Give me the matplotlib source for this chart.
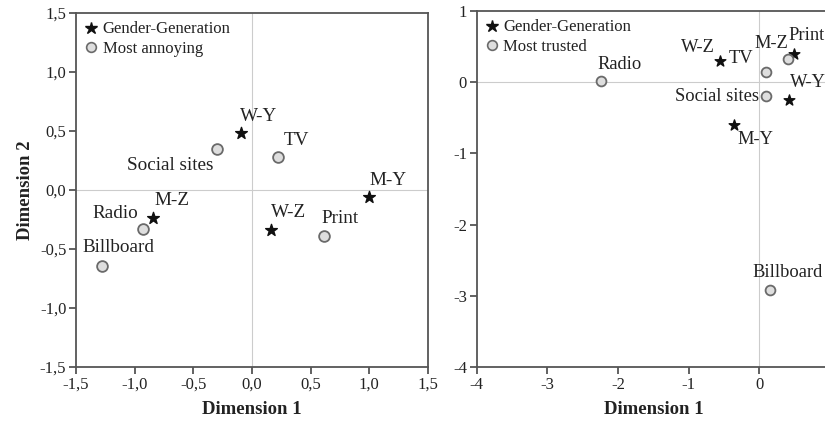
import matplotlib
matplotlib.use('Agg')
import matplotlib.pyplot as plt
from matplotlib.lines import Line2D

plt.rcParams['font.family'] = ['Liberation Serif', 'DejaVu Serif']

# Panel izquierdo: Most annoying
gen_labels_l = ['W-Y', 'M-Y', 'M-Z', 'W-Z']
gen_x_l = [-0.09, 1.00, -0.84, 0.165]
gen_y_l = [0.48, -0.06, -0.24, -0.34]

media_labels_l = ['Social sites', 'TV', 'Radio', 'Billboard', 'Print']
media_x_l = [-0.30, 0.225, -0.93, -1.28, 0.61]
media_y_l = [0.345, 0.277, -0.33, -0.64, -0.39]

ticks_l = [-1.5, -1.0, -0.5, 0.0, 0.5, 1.0, 1.5]
ticklabels_l = ['-1,5', '-1,0', '-0,5', '0,0', '0,5', '1,0', '1,5']

# Panel derecho: Most trusted
gen_labels_r = ['W-Z', 'M-Y', 'W-Y', 'M-Z']
gen_x_r = [-0.557, -0.36, 0.425, 0.49]
gen_y_r = [0.295, -0.60, -0.257, 0.39]

media_labels_r = ['Radio', 'TV', 'Social sites', 'Print', 'Billboard']
media_x_r = [-2.24, 0.094, 0.094, 0.41, 0.15]
media_y_r = [0.014, 0.14, -0.197, 0.33, -2.92]

xticks_r = [-4, -3, -2, -1, 0]
xticklabels_r = ['-4', '-3', '-2', '-1', '0']
yticks_r = [-4, -3, -2, -1, 0, 1]
yticklabels_r = ['-4', '-3', '-2', '-1', '0', '1']

# desplazamientos de etiquetas en pixeles (dx, dy, ha)
offs_gen_l = {'W-Y': (-1, 17, 'left'), 'M-Y': (0, 17, 'left'),
              'M-Z': (1, 18, 'left'), 'W-Z': (0, 18, 'left')}
offs_media_l = {'Social sites': (-3, -16, 'right'), 'TV': (5, 17, 'left'),
                'Radio': (-5, 15, 'right'), 'Billboard': (-19, 18, 'left'),
                'Print': (-2, 18, 'left')}
offs_gen_r = {'W-Z': (-5, 14, 'right'), 'M-Y': (4, -15, 'left'),
              'W-Y': (1, 18, 'left'), 'M-Z': (-6, 11, 'right')}
offs_media_r = {'Radio': (-4, 17, 'left'), 'TV': (-13, 14, 'right'),
                'Social sites': (-7, 0, 'right'), 'Print': (0, 23, 'left'),
                'Billboard': (-18, 18, 'left')}

spine_col = '#555555'
text_col = '#222222'
PX = 0.72  # puntos por pixel a dpi 100

fig = plt.figure(figsize=(8.25, 4.25), dpi=100)
ax1 = fig.add_axes([76 / 825, 58 / 425, 352 / 825, 354 / 425])
ax2 = fig.add_axes([476.7 / 825, 58 / 425, 353.3 / 825, 356 / 425])


def draw_panel(ax, gx, gy, glab, goffs, mx, my, mlab, moffs, legend_label, fs, msize):
    ax.axhline(0, color='#cccccc', lw=0.8, zorder=0)
    ax.axvline(0, color='#cccccc', lw=0.8, zorder=0)
    ax.scatter(gx, gy, marker='*', s=msize * 1.3, color='#111111', zorder=3)
    ax.scatter(mx, my, marker='o', s=msize, facecolor='#dedede',
               edgecolor='#6a6a6a', linewidth=1.3, zorder=3)
    for x, y, t in zip(gx, gy, glab):
        dx, dy, ha = goffs[t]
        ax.annotate(t, (x, y), xytext=(dx * PX, dy * PX), textcoords='offset points',
                    ha=ha, va='center', fontsize=fs, color=text_col)
    for x, y, t in zip(mx, my, mlab):
        dx, dy, ha = moffs[t]
        ax.annotate(t, (x, y), xytext=(dx * PX, dy * PX), textcoords='offset points',
                    ha=ha, va='center', fontsize=fs, color=text_col)
    handles = [Line2D([], [], marker='*', color='#111111', linestyle='none', markersize=9),
               Line2D([], [], marker='o', markerfacecolor='#dedede', markeredgecolor='#6a6a6a',
                      markeredgewidth=1.2, linestyle='none', markersize=7)]
    leg = ax.legend(handles, ['Gender-Generation', legend_label], loc='upper left',
                    frameon=False, fontsize=12, handlelength=0.8, handletextpad=0.3,
                    labelspacing=0.22, borderaxespad=0.3, borderpad=0.2)
    for t in leg.get_texts():
        t.set_color(text_col)
    for s in ax.spines.values():
        s.set_color(spine_col)
        s.set_linewidth(1.3)
    ax.tick_params(direction='out', length=5, width=1.3, color=spine_col,
                   labelsize=12, labelcolor=text_col, pad=2)
    ax.set_xlabel('Dimension 1', fontsize=13.5, fontweight='bold', color=text_col, labelpad=6)


draw_panel(ax1, gen_x_l, gen_y_l, gen_labels_l, offs_gen_l,
           media_x_l, media_y_l, media_labels_l, offs_media_l, 'Most annoying', 13.8, 60)
ax1.set_xlim(-1.5, 1.5)
ax1.set_ylim(-1.5, 1.5)
ax1.set_xticks(ticks_l)
ax1.set_xticklabels(ticklabels_l)
ax1.set_yticks(ticks_l)
ax1.set_yticklabels(ticklabels_l)
ax1.set_ylabel('Dimension 2', fontsize=13.5, fontweight='bold', color=text_col, labelpad=4)

draw_panel(ax2, gen_x_r, gen_y_r, gen_labels_r, offs_gen_r,
           media_x_r, media_y_r, media_labels_r, offs_media_r, 'Most trusted', 13.3, 50)
ax2.set_xlim(-4, 1)
ax2.set_ylim(-4, 1)
ax2.set_xticks(xticks_r)
ax2.set_xticklabels(xticklabels_r)
ax2.set_yticks(yticks_r)
ax2.set_yticklabels(yticklabels_r)

fig.savefig('out.png', dpi=100)
